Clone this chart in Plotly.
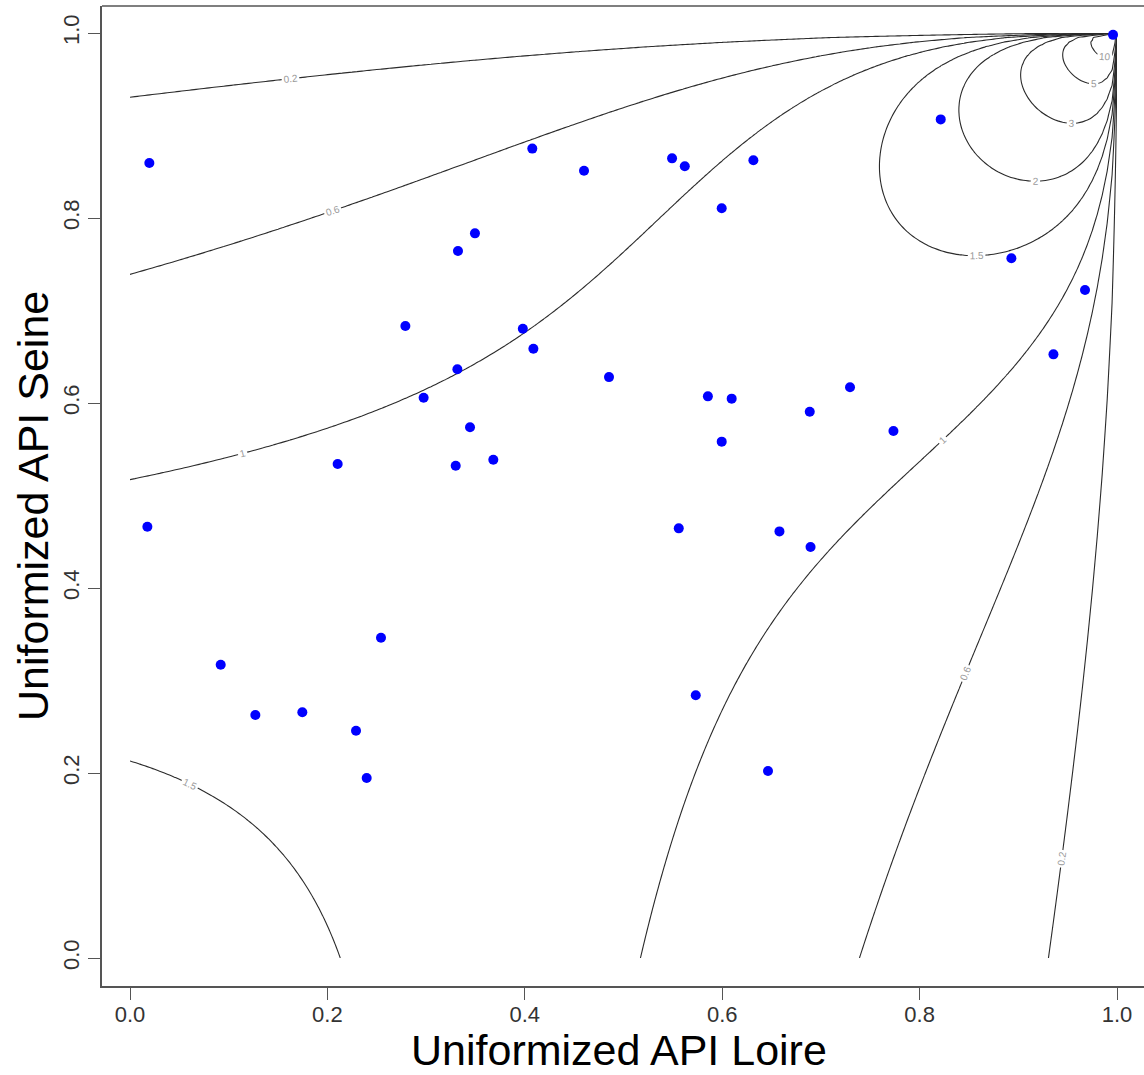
import numpy as np
import plotly.graph_objects as go

# Pseudo-observations (uniformized margins)
api_loire = [0.0196, 0.0176, 0.0919, 0.1270, 0.1746, 0.2290, 0.2398, 0.2543,
             0.2104, 0.2790, 0.2975, 0.3300, 0.3317, 0.3323, 0.3445, 0.3495,
             0.3681, 0.3980, 0.4076, 0.4087, 0.4600, 0.4853, 0.5492, 0.5560,
             0.5621, 0.5732, 0.5855, 0.5995, 0.5995, 0.6096, 0.6316, 0.6464,
             0.6580, 0.6887, 0.6895, 0.7295, 0.7735, 0.8214, 0.8930, 0.9356,
             0.9676, 0.9960]
api_seine = [0.8595, 0.4663, 0.3171, 0.2627, 0.2656, 0.2457, 0.1946, 0.3463,
             0.5340, 0.6832, 0.6057, 0.5322, 0.6364, 0.7643, 0.5737, 0.7834,
             0.5387, 0.6803, 0.8750, 0.6587, 0.8510, 0.6280, 0.8645, 0.4645,
             0.8559, 0.2840, 0.6072, 0.8105, 0.5582, 0.6047, 0.8624, 0.2022,
             0.4612, 0.5906, 0.4443, 0.6170, 0.5697, 0.9066, 0.7564, 0.6526,
             0.7222, 0.9980]

# Fitted survival (180-degree rotated) Clayton parameter and density levels
theta = 0.83
levels = [0.2, 0.6, 1, 1.5, 2, 3, 5, 10]

tick_vals = [0.0, 0.2, 0.4, 0.6, 0.8, 1.0]
tick_text = ["0.0", "0.2", "0.4", "0.6", "0.8", "1.0"]


def survival_clayton_density(u, v, th):
    ub, vb = 1.0 - u, 1.0 - v
    with np.errstate(divide="ignore", invalid="ignore", over="ignore"):
        d = (1.0 + th) * (ub * vb) ** (-th - 1.0) \
            * (ub ** (-th) + vb ** (-th) - 1.0) ** (-1.0 / th - 2.0)
    # limits on the upper / right borders and the singular corner
    d = np.where((ub == 0) ^ (vb == 0), 0.0, d)
    d = np.where((ub == 0) & (vb == 0), 1e3, d)
    return d


grid = np.linspace(0.0, 1.0, 201)
U, V = np.meshgrid(grid, grid)
Z = survival_clayton_density(U, V, theta)

fig = go.Figure()

for lev in levels:
    fig.add_trace(go.Contour(
        x=grid, y=grid, z=Z,
        autocontour=False,
        contours=dict(start=lev, end=lev, size=1, coloring="none",
                      showlabels=True,
                      labelfont=dict(family="Liberation Sans", size=10, color="#9a9a9a")),
        line=dict(color="#2b2b2b", width=1.1),
        showscale=False,
        hoverinfo="skip",
    ))

fig.add_trace(go.Scatter(
    x=api_loire, y=api_seine, mode="markers",
    marker=dict(color="#0000ff", size=10, line=dict(width=0)),
    hoverinfo="skip",
))

x_lo = -28 / 987
x_hi = x_lo + 1042 / 987
y_hi = 1 + 27 / 925
y_lo = y_hi - 980 / 925

tick_font = dict(family="Liberation Sans", size=22, color="#333333")
title_font = dict(family="Liberation Sans", size=43, color="black")

fig.update_layout(
    width=1144, height=1075,
    margin=dict(l=102, r=0, t=6, b=89),
    paper_bgcolor="white", plot_bgcolor="white",
    showlegend=False,
    xaxis=dict(range=[x_lo, x_hi], showgrid=False, zeroline=False,
               showline=True, linecolor="#555555", linewidth=1.5,
               ticks="outside", ticklen=12, tickwidth=1.2, tickcolor="#555555",
               tickvals=tick_vals, ticktext=tick_text, tickfont=tick_font,
               ticklabelstandoff=-4),
    yaxis=dict(range=[y_lo, y_hi], showgrid=False, zeroline=False,
               showline=True, linecolor="#555555", linewidth=1.5,
               ticks="outside", ticklen=12, tickwidth=1.2, tickcolor="#555555",
               tickvals=tick_vals, ticktext=tick_text, tickfont=tick_font,
               tickangle=-90, ticklabelstandoff=0),
    shapes=[dict(type="line", xref="paper", yref="paper", x0=0, x1=1, y0=1, y1=1,
                 line=dict(color="#555555", width=1.5))],
    annotations=[
        dict(text="Uniformized API Loire", xref="paper", yref="paper",
             x=(619 - 102) / 1042, y=(986 - 1075) / 980,
             xanchor="center", yanchor="bottom", showarrow=False, borderpad=0,
             font=title_font),
        dict(text="Uniformized API Seine", xref="paper", yref="paper",
             x=(33 - 102) / 1042, y=(986 - 506) / 980, textangle=-90,
             xanchor="center", yanchor="middle", showarrow=False, borderpad=0,
             font=title_font),
    ],
)

fig.write_html("out.html")
